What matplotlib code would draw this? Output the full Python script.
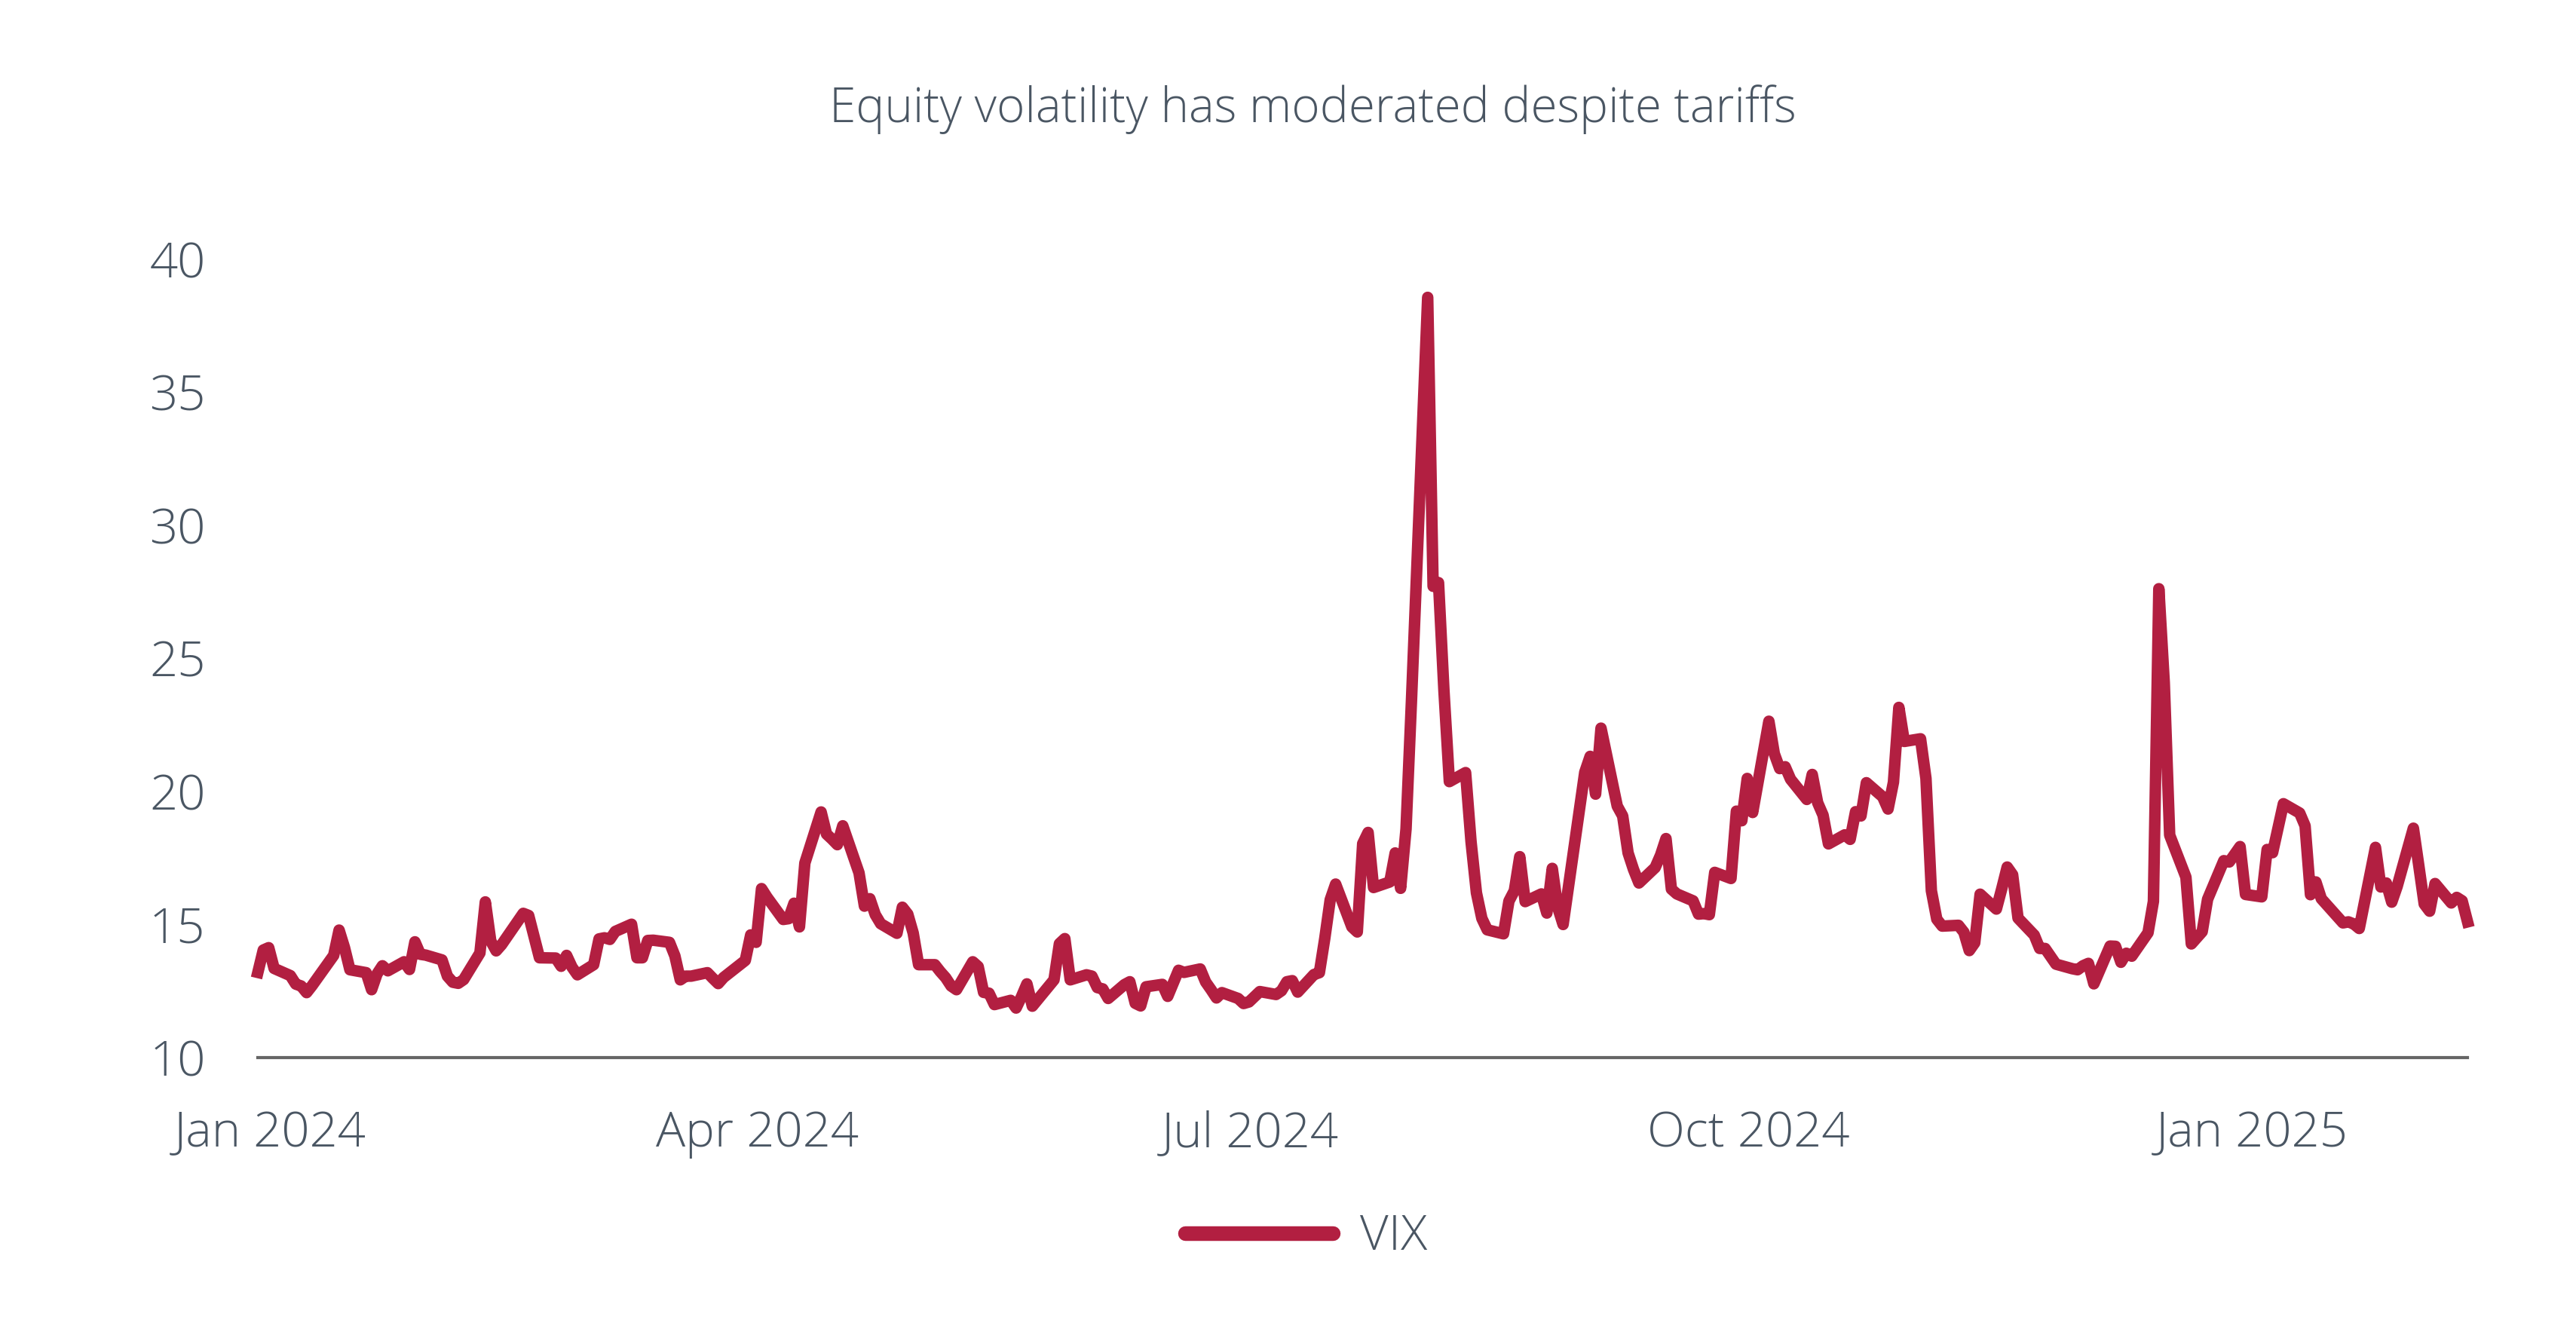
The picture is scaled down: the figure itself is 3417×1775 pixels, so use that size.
import numpy as np
import pandas as pd
import matplotlib
matplotlib.use("Agg")
import matplotlib.pyplot as plt
from matplotlib.transforms import ScaledTranslation

# VIX daily closes, Jan 2024 - Feb 2025
dates = [
    "2024-01-02", "2024-01-03", "2024-01-04", "2024-01-05", "2024-01-08", "2024-01-09", "2024-01-10", "2024-01-11", "2024-01-12", "2024-01-16", "2024-01-17", "2024-01-18", "2024-01-19", "2024-01-22", "2024-01-23", "2024-01-24", "2024-01-25", "2024-01-26", "2024-01-29", "2024-01-30", "2024-01-31",
    "2024-02-01", "2024-02-02", "2024-02-05", "2024-02-06", "2024-02-07", "2024-02-08", "2024-02-09", "2024-02-12", "2024-02-13", "2024-02-14", "2024-02-15", "2024-02-16", "2024-02-20", "2024-02-21", "2024-02-22", "2024-02-23", "2024-02-26", "2024-02-27", "2024-02-28", "2024-02-29",
    "2024-03-01", "2024-03-04", "2024-03-05", "2024-03-06", "2024-03-07", "2024-03-08", "2024-03-11", "2024-03-12", "2024-03-13", "2024-03-14", "2024-03-15", "2024-03-18", "2024-03-19", "2024-03-20", "2024-03-21", "2024-03-22", "2024-03-25", "2024-03-26", "2024-03-27", "2024-03-28",
    "2024-04-01", "2024-04-02", "2024-04-03", "2024-04-04", "2024-04-05", "2024-04-08", "2024-04-09", "2024-04-10", "2024-04-11", "2024-04-12", "2024-04-15", "2024-04-16", "2024-04-17", "2024-04-18", "2024-04-19", "2024-04-22", "2024-04-23", "2024-04-24", "2024-04-25", "2024-04-26", "2024-04-29", "2024-04-30",
    "2024-05-01", "2024-05-02", "2024-05-03", "2024-05-06", "2024-05-07", "2024-05-08", "2024-05-09", "2024-05-10", "2024-05-13", "2024-05-14", "2024-05-15", "2024-05-16", "2024-05-17", "2024-05-20", "2024-05-21", "2024-05-22", "2024-05-23", "2024-05-24", "2024-05-28", "2024-05-29", "2024-05-30", "2024-05-31",
    "2024-06-03", "2024-06-04", "2024-06-05", "2024-06-06", "2024-06-07", "2024-06-10", "2024-06-11", "2024-06-12", "2024-06-13", "2024-06-14", "2024-06-17", "2024-06-18", "2024-06-20", "2024-06-21", "2024-06-24", "2024-06-25", "2024-06-26", "2024-06-27", "2024-06-28",
    "2024-07-01", "2024-07-02", "2024-07-03", "2024-07-05", "2024-07-08", "2024-07-09", "2024-07-10", "2024-07-11", "2024-07-12", "2024-07-15", "2024-07-16", "2024-07-17", "2024-07-18", "2024-07-19", "2024-07-22", "2024-07-23", "2024-07-24", "2024-07-25", "2024-07-26", "2024-07-29", "2024-07-30", "2024-07-31",
    "2024-08-01", "2024-08-02", "2024-08-05", "2024-08-06", "2024-08-07", "2024-08-08", "2024-08-09", "2024-08-12", "2024-08-13", "2024-08-14", "2024-08-15", "2024-08-16", "2024-08-19", "2024-08-20", "2024-08-21", "2024-08-22", "2024-08-23", "2024-08-26", "2024-08-27", "2024-08-28", "2024-08-29", "2024-08-30",
    "2024-09-03", "2024-09-04", "2024-09-05", "2024-09-06", "2024-09-09", "2024-09-10", "2024-09-11", "2024-09-12", "2024-09-13", "2024-09-16", "2024-09-17", "2024-09-18", "2024-09-19", "2024-09-20", "2024-09-23", "2024-09-24", "2024-09-25", "2024-09-26", "2024-09-27", "2024-09-30",
    "2024-10-01", "2024-10-02", "2024-10-03", "2024-10-04", "2024-10-07", "2024-10-08", "2024-10-09", "2024-10-10", "2024-10-11", "2024-10-14", "2024-10-15", "2024-10-16", "2024-10-17", "2024-10-18", "2024-10-21", "2024-10-22", "2024-10-23", "2024-10-24", "2024-10-25", "2024-10-28", "2024-10-29", "2024-10-30", "2024-10-31",
    "2024-11-01", "2024-11-04", "2024-11-05", "2024-11-06", "2024-11-07", "2024-11-08", "2024-11-11", "2024-11-12", "2024-11-13", "2024-11-14", "2024-11-15", "2024-11-18", "2024-11-19", "2024-11-20", "2024-11-21", "2024-11-22", "2024-11-25", "2024-11-26", "2024-11-27", "2024-11-29",
    "2024-12-02", "2024-12-03", "2024-12-04", "2024-12-05", "2024-12-06", "2024-12-09", "2024-12-10", "2024-12-11", "2024-12-12", "2024-12-13", "2024-12-16", "2024-12-17", "2024-12-18", "2024-12-19", "2024-12-20", "2024-12-23", "2024-12-24", "2024-12-26", "2024-12-27", "2024-12-30", "2024-12-31",
    "2025-01-02", "2025-01-03", "2025-01-06", "2025-01-07", "2025-01-08", "2025-01-10", "2025-01-13", "2025-01-14", "2025-01-15", "2025-01-16", "2025-01-17", "2025-01-21", "2025-01-22", "2025-01-23", "2025-01-24", "2025-01-27", "2025-01-28", "2025-01-29", "2025-01-30", "2025-01-31",
    "2025-02-03", "2025-02-04", "2025-02-05", "2025-02-06", "2025-02-07", "2025-02-10", "2025-02-11", "2025-02-12", "2025-02-13",
]

vix = [
    13.20, 14.04, 14.13, 13.35, 13.08, 12.76, 12.69, 12.44, 12.70, 13.84, 14.79, 14.13, 13.30, 13.19, 12.55, 13.14, 13.45, 13.26, 13.60, 13.31, 14.35,
    13.88, 13.85, 13.67, 13.06, 12.83, 12.79, 12.93, 13.93, 15.85, 14.38, 14.01, 14.24, 15.42, 15.34, 14.54, 13.75, 13.74, 13.43, 13.84, 13.40,
    13.11, 13.49, 14.46, 14.50, 14.44, 14.74, 15.01, 13.75, 13.75, 14.40, 14.41, 14.33, 13.82, 12.92, 13.06, 13.06, 13.19, 12.98, 12.78, 13.01,
    13.65, 14.61, 14.33, 16.35, 16.03, 15.19, 15.22, 15.80, 14.91, 17.31, 19.23, 18.40, 18.21, 18.00, 18.71, 16.94, 15.69, 15.97, 15.37, 15.03, 14.67, 15.65,
    15.39, 14.68, 13.49, 13.49, 13.23, 13.00, 12.69, 12.55, 13.60, 13.42, 12.45, 12.42, 11.99, 12.15, 11.86, 12.29, 12.77, 11.93, 12.92, 14.28, 14.47, 12.92,
    13.11, 13.06, 12.63, 12.58, 12.22, 12.74, 12.85, 12.04, 11.94, 12.66, 12.75, 12.30, 13.28, 13.20, 13.33, 12.84, 12.55, 12.24, 12.44,
    12.22, 12.03, 12.09, 12.48, 12.37, 12.51, 12.85, 12.89, 12.46, 13.12, 13.19, 14.48, 15.93, 16.52, 14.91, 14.72, 18.04, 18.46, 16.39, 16.60, 17.69, 16.36,
    18.59, 23.39, 38.57, 27.71, 27.85, 23.79, 20.37, 20.71, 18.12, 16.19, 15.23, 14.80, 14.65, 15.88, 16.27, 17.55, 15.86, 16.15, 15.43, 17.11, 15.65, 15.00,
    20.72, 21.32, 19.90, 22.38, 19.45, 19.08, 17.69, 17.07, 16.56, 17.14, 17.61, 18.23, 16.33, 16.15, 15.89, 15.39, 15.41, 15.37, 16.96, 16.73,
    19.26, 18.90, 20.49, 19.21, 22.64, 21.42, 20.86, 20.93, 20.46, 19.70, 20.64, 19.58, 19.11, 18.03, 18.37, 18.20, 19.24, 19.08, 20.33, 19.80, 19.34, 20.35, 23.16,
    21.88, 21.98, 20.49, 16.27, 15.20, 14.94, 14.97, 14.71, 14.02, 14.31, 16.14, 15.58, 16.35, 17.16, 16.87, 15.24, 14.60, 14.10, 14.10, 13.51,
    13.34, 13.30, 13.45, 13.54, 12.77, 14.19, 14.18, 13.58, 13.92, 13.81, 14.69, 15.87, 27.62, 24.09, 18.36, 16.78, 14.27, 14.73, 15.95, 17.40, 17.35,
    17.93, 16.13, 16.04, 17.82, 17.70, 19.54, 19.19, 18.71, 16.12, 16.60, 15.97, 15.06, 15.10, 15.02, 14.85, 17.90, 16.41, 16.56, 15.84, 16.43,
    18.62, 17.21, 15.77, 15.50, 16.54, 15.81, 16.02, 15.89, 15.10,
]

xtick_dates = ["2024-01-02", "2024-04-01", "2024-07-01", "2024-10-01", "2025-01-02"]
xtick_labels = ["Jan 2024", "Apr 2024", "Jul 2024", "Oct 2024", "Jan 2025"]
yticks = [10, 15, 20, 25, 30, 35, 40]

title = "Equity volatility has moderated despite tariffs"
series_name = "VIX"

red = "#B21F41"
text_col = "#4A5663"

plt.rcParams["font.family"] = ["Open Sans", "DejaVu Sans"]

x = pd.to_datetime(dates)
assert len(x) == len(vix)

fig = plt.figure(figsize=(34.17, 17.75), dpi=100)
ax = fig.add_axes([0.1001, 0.2096, 0.8578, 0.5966])

ax.plot(x, vix, color=red, lw=11, label=series_name, clip_on=False)

ax.set_xlim(x[0], x[-1])
ax.set_ylim(10, 40)
ax.set_yticks(yticks)
ax.set_xticks(pd.to_datetime(xtick_dates))
ax.set_xticklabels(xtick_labels)

for s in ["top", "right", "left"]:
    ax.spines[s].set_visible(False)
ax.spines["bottom"].set_color("#666666")
ax.spines["bottom"].set_linewidth(3)

ax.tick_params(axis="both", length=0, labelsize=47, colors=text_col)
ax.tick_params(axis="x", pad=50)
ax.tick_params(axis="y", pad=50)
for lab in ax.get_xticklabels() + ax.get_yticklabels():
    lab.set_fontweight("light")
# labels sit a little right of the first trading day
shift = ScaledTranslation(0.16, 0, fig.dpi_scale_trans)
for lab in ax.get_xticklabels():
    lab.set_transform(lab.get_transform() + shift)

fig.text(0.5096, 0.918, title, ha="center", va="center", fontsize=46,
         color=text_col, fontweight="light")

leg = fig.legend(loc="center", bbox_to_anchor=(0.507, 0.075), frameon=False,
                 fontsize=47, handlelength=3.0, handletextpad=0.55)
for t in leg.get_texts():
    t.set_color(text_col)
    t.set_fontweight("light")
for ln in leg.get_lines():
    ln.set_linewidth(14)
    ln.set_solid_capstyle("round")

fig.savefig("out.png", dpi=100)
